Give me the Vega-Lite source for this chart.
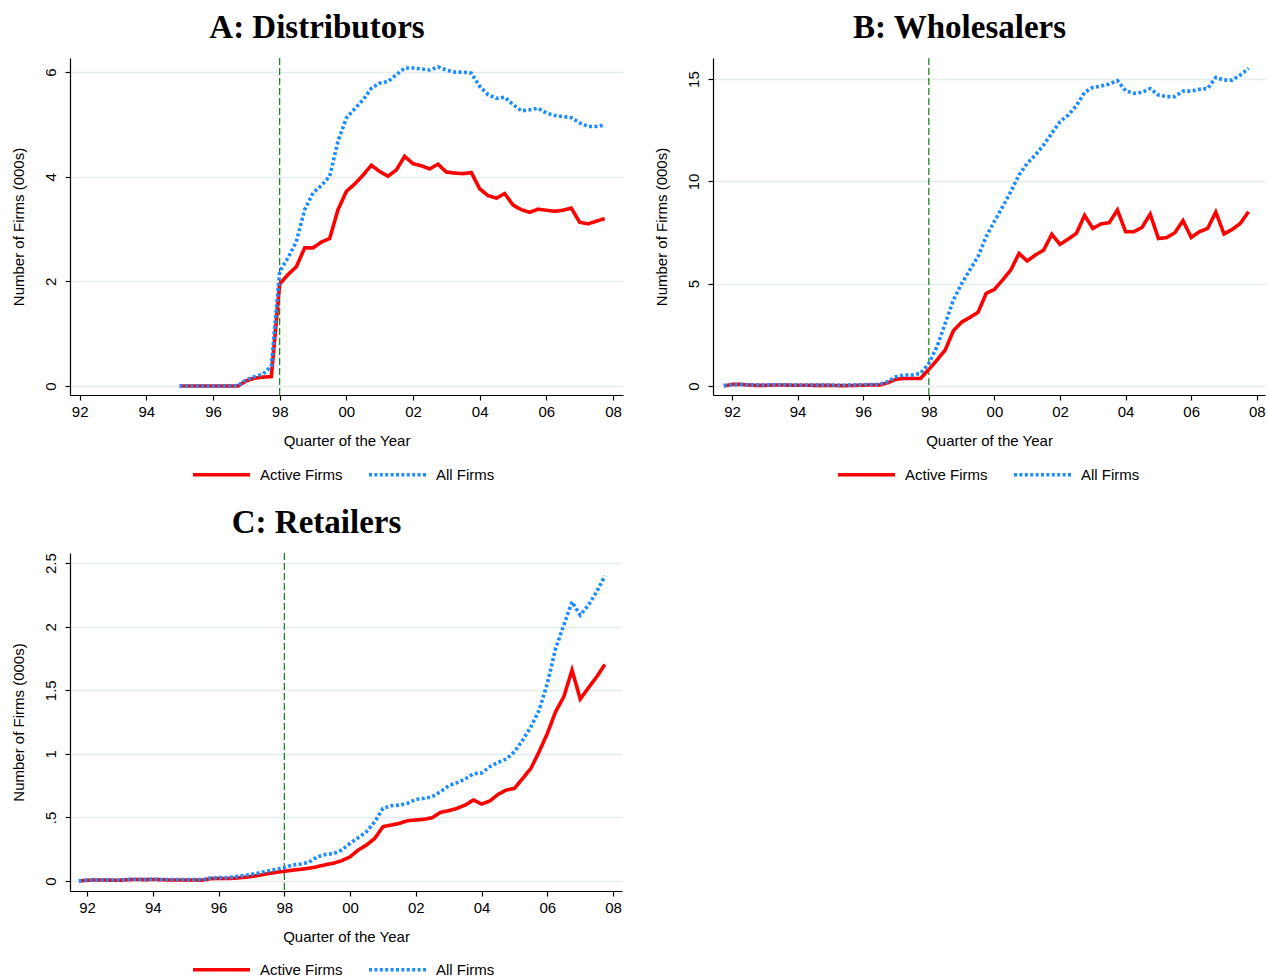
{
  "$schema": "https://vega.github.io/schema/vega-lite/v6.json",
  "background": "white",
  "padding": {"left": 11, "top": 12, "right": 0, "bottom": 0},
  "config": {
    "view": {"stroke": null},
    "font": "Liberation Sans",
    "axis": {"labelFont": "Liberation Sans", "titleFont": "Liberation Sans", "labelColor": "black", "titleColor": "black", "domainColor": "black", "tickColor": "black", "domainWidth": 1.2, "tickWidth": 1.2, "tickSize": 5, "labelFontSize": 15, "titleFontSize": 15, "titleFontWeight": "normal", "labelFlush": false, "labelOverlap": false},
    "axisX": {"grid": false, "labelPadding": 4, "titlePadding": 14},
    "axisY": {"grid": true, "gridColor": "#e4ecef", "gridWidth": 1.3, "labelAngle": -90, "labelAlign": "center", "labelBaseline": "bottom", "labelPadding": 7, "titlePadding": 17},
    "title": {"font": "Liberation Serif", "fontSize": 33, "fontWeight": "bold", "color": "black", "anchor": "middle", "frame": "bounds", "offset": 12},
    "legend": {"title": null, "orient": "none", "direction": "horizontal", "symbolType": "M-3,0H3", "symbolSize": 361, "symbolStrokeWidth": 3.6, "labelOffset": 27, "labelFont": "Liberation Sans", "labelFontSize": 15, "labelColor": "black", "columnPadding": 18, "padding": 0, "labelLimit": 300}
  },
  "datasets": {
    "A": [
      {"t": 1995.0, "Active Firms": 0, "All Firms": 0},
      {"t": 1995.25, "Active Firms": 0, "All Firms": 0},
      {"t": 1995.5, "Active Firms": 0, "All Firms": 0},
      {"t": 1995.75, "Active Firms": 0, "All Firms": 0},
      {"t": 1996.0, "Active Firms": 0, "All Firms": 0},
      {"t": 1996.25, "Active Firms": 0, "All Firms": 0},
      {"t": 1996.5, "Active Firms": 0, "All Firms": 0},
      {"t": 1996.75, "Active Firms": 0, "All Firms": 0.01},
      {"t": 1997.0, "Active Firms": 0.10, "All Firms": 0.12},
      {"t": 1997.25, "Active Firms": 0.15, "All Firms": 0.18},
      {"t": 1997.5, "Active Firms": 0.17, "All Firms": 0.23},
      {"t": 1997.75, "Active Firms": 0.18, "All Firms": 0.38},
      {"t": 1998.0, "Active Firms": 1.95, "All Firms": 2.19},
      {"t": 1998.25, "Active Firms": 2.13, "All Firms": 2.45},
      {"t": 1998.5, "Active Firms": 2.28, "All Firms": 2.76},
      {"t": 1998.75, "Active Firms": 2.64, "All Firms": 3.37},
      {"t": 1999.0, "Active Firms": 2.64, "All Firms": 3.69},
      {"t": 1999.25, "Active Firms": 2.75, "All Firms": 3.83},
      {"t": 1999.5, "Active Firms": 2.82, "All Firms": 4.01},
      {"t": 1999.75, "Active Firms": 3.37, "All Firms": 4.68},
      {"t": 2000.0, "Active Firms": 3.72, "All Firms": 5.12},
      {"t": 2000.25, "Active Firms": 3.86, "All Firms": 5.30},
      {"t": 2000.5, "Active Firms": 4.03, "All Firms": 5.47},
      {"t": 2000.75, "Active Firms": 4.22, "All Firms": 5.69},
      {"t": 2001.0, "Active Firms": 4.10, "All Firms": 5.79},
      {"t": 2001.25, "Active Firms": 4.01, "All Firms": 5.82},
      {"t": 2001.5, "Active Firms": 4.13, "All Firms": 5.95},
      {"t": 2001.75, "Active Firms": 4.39, "All Firms": 6.08},
      {"t": 2002.0, "Active Firms": 4.25, "All Firms": 6.08},
      {"t": 2002.25, "Active Firms": 4.21, "All Firms": 6.06},
      {"t": 2002.5, "Active Firms": 4.15, "All Firms": 6.04},
      {"t": 2002.75, "Active Firms": 4.24, "All Firms": 6.10},
      {"t": 2003.0, "Active Firms": 4.09, "All Firms": 6.04},
      {"t": 2003.25, "Active Firms": 4.07, "All Firms": 6.00},
      {"t": 2003.5, "Active Firms": 4.06, "All Firms": 6.00},
      {"t": 2003.75, "Active Firms": 4.08, "All Firms": 5.98},
      {"t": 2004.0, "Active Firms": 3.77, "All Firms": 5.73},
      {"t": 2004.25, "Active Firms": 3.64, "All Firms": 5.57},
      {"t": 2004.5, "Active Firms": 3.59, "All Firms": 5.50},
      {"t": 2004.75, "Active Firms": 3.68, "All Firms": 5.52},
      {"t": 2005.0, "Active Firms": 3.46, "All Firms": 5.38},
      {"t": 2005.25, "Active Firms": 3.37, "All Firms": 5.26},
      {"t": 2005.5, "Active Firms": 3.32, "All Firms": 5.28},
      {"t": 2005.75, "Active Firms": 3.38, "All Firms": 5.31},
      {"t": 2006.0, "Active Firms": 3.36, "All Firms": 5.22},
      {"t": 2006.25, "Active Firms": 3.34, "All Firms": 5.17},
      {"t": 2006.5, "Active Firms": 3.36, "All Firms": 5.15},
      {"t": 2006.75, "Active Firms": 3.40, "All Firms": 5.13},
      {"t": 2007.0, "Active Firms": 3.13, "All Firms": 5.03},
      {"t": 2007.25, "Active Firms": 3.10, "All Firms": 4.96},
      {"t": 2007.5, "Active Firms": 3.15, "All Firms": 4.96},
      {"t": 2007.75, "Active Firms": 3.20, "All Firms": 4.99}
    ],
    "B": [
      {"t": 1991.75, "Active Firms": 0.00, "All Firms": 0.02},
      {"t": 1992.0, "Active Firms": 0.08, "All Firms": 0.06},
      {"t": 1992.25, "Active Firms": 0.08, "All Firms": 0.07},
      {"t": 1992.5, "Active Firms": 0.05, "All Firms": 0.06},
      {"t": 1992.75, "Active Firms": 0.03, "All Firms": 0.05},
      {"t": 1993.0, "Active Firms": 0.03, "All Firms": 0.05},
      {"t": 1993.25, "Active Firms": 0.05, "All Firms": 0.06},
      {"t": 1993.5, "Active Firms": 0.05, "All Firms": 0.06},
      {"t": 1993.75, "Active Firms": 0.04, "All Firms": 0.05},
      {"t": 1994.0, "Active Firms": 0.04, "All Firms": 0.05},
      {"t": 1994.25, "Active Firms": 0.04, "All Firms": 0.05},
      {"t": 1994.5, "Active Firms": 0.03, "All Firms": 0.05},
      {"t": 1994.75, "Active Firms": 0.03, "All Firms": 0.05},
      {"t": 1995.0, "Active Firms": 0.03, "All Firms": 0.05},
      {"t": 1995.25, "Active Firms": 0.02, "All Firms": 0.04},
      {"t": 1995.5, "Active Firms": 0.02, "All Firms": 0.04},
      {"t": 1995.75, "Active Firms": 0.03, "All Firms": 0.05},
      {"t": 1996.0, "Active Firms": 0.04, "All Firms": 0.06},
      {"t": 1996.25, "Active Firms": 0.05, "All Firms": 0.07},
      {"t": 1996.5, "Active Firms": 0.05, "All Firms": 0.08},
      {"t": 1996.75, "Active Firms": 0.16, "All Firms": 0.22},
      {"t": 1997.0, "Active Firms": 0.33, "All Firms": 0.45},
      {"t": 1997.25, "Active Firms": 0.37, "All Firms": 0.54},
      {"t": 1997.5, "Active Firms": 0.37, "All Firms": 0.54},
      {"t": 1997.75, "Active Firms": 0.37, "All Firms": 0.62},
      {"t": 1998.0, "Active Firms": 0.81, "All Firms": 1.10},
      {"t": 1998.25, "Active Firms": 1.27, "All Firms": 1.92},
      {"t": 1998.5, "Active Firms": 1.76, "All Firms": 3.06},
      {"t": 1998.75, "Active Firms": 2.70, "All Firms": 4.20},
      {"t": 1999.0, "Active Firms": 3.12, "All Firms": 5.00},
      {"t": 1999.25, "Active Firms": 3.35, "All Firms": 5.67},
      {"t": 1999.5, "Active Firms": 3.60, "All Firms": 6.32},
      {"t": 1999.75, "Active Firms": 4.53, "All Firms": 7.30},
      {"t": 2000.0, "Active Firms": 4.72, "All Firms": 8.05},
      {"t": 2000.25, "Active Firms": 5.18, "All Firms": 8.76},
      {"t": 2000.5, "Active Firms": 5.67, "All Firms": 9.50},
      {"t": 2000.75, "Active Firms": 6.48, "All Firms": 10.31},
      {"t": 2001.0, "Active Firms": 6.11, "All Firms": 10.88},
      {"t": 2001.25, "Active Firms": 6.40, "All Firms": 11.29},
      {"t": 2001.5, "Active Firms": 6.64, "All Firms": 11.78},
      {"t": 2001.75, "Active Firms": 7.41, "All Firms": 12.35},
      {"t": 2002.0, "Active Firms": 6.92, "All Firms": 12.92},
      {"t": 2002.25, "Active Firms": 7.18, "All Firms": 13.24},
      {"t": 2002.5, "Active Firms": 7.46, "All Firms": 13.70},
      {"t": 2002.75, "Active Firms": 8.34, "All Firms": 14.35},
      {"t": 2003.0, "Active Firms": 7.70, "All Firms": 14.59},
      {"t": 2003.25, "Active Firms": 7.92, "All Firms": 14.66},
      {"t": 2003.5, "Active Firms": 7.98, "All Firms": 14.76},
      {"t": 2003.75, "Active Firms": 8.60, "All Firms": 14.92},
      {"t": 2004.0, "Active Firms": 7.54, "All Firms": 14.43},
      {"t": 2004.25, "Active Firms": 7.54, "All Firms": 14.30},
      {"t": 2004.5, "Active Firms": 7.75, "All Firms": 14.35},
      {"t": 2004.75, "Active Firms": 8.40, "All Firms": 14.54},
      {"t": 2005.0, "Active Firms": 7.21, "All Firms": 14.22},
      {"t": 2005.25, "Active Firms": 7.25, "All Firms": 14.14},
      {"t": 2005.5, "Active Firms": 7.49, "All Firms": 14.14},
      {"t": 2005.75, "Active Firms": 8.08, "All Firms": 14.41},
      {"t": 2006.0, "Active Firms": 7.26, "All Firms": 14.41},
      {"t": 2006.25, "Active Firms": 7.54, "All Firms": 14.50},
      {"t": 2006.5, "Active Firms": 7.70, "All Firms": 14.54},
      {"t": 2006.75, "Active Firms": 8.50, "All Firms": 15.08},
      {"t": 2007.0, "Active Firms": 7.43, "All Firms": 14.95},
      {"t": 2007.25, "Active Firms": 7.65, "All Firms": 14.95},
      {"t": 2007.5, "Active Firms": 7.95, "All Firms": 15.20},
      {"t": 2007.75, "Active Firms": 8.52, "All Firms": 15.52}
    ],
    "C": [
      {"t": 1991.75, "Active Firms": 0.000, "All Firms": 0.003},
      {"t": 1992.0, "Active Firms": 0.005, "All Firms": 0.006},
      {"t": 1992.25, "Active Firms": 0.008, "All Firms": 0.008},
      {"t": 1992.5, "Active Firms": 0.008, "All Firms": 0.009},
      {"t": 1992.75, "Active Firms": 0.006, "All Firms": 0.008},
      {"t": 1993.0, "Active Firms": 0.006, "All Firms": 0.008},
      {"t": 1993.25, "Active Firms": 0.010, "All Firms": 0.012},
      {"t": 1993.5, "Active Firms": 0.012, "All Firms": 0.014},
      {"t": 1993.75, "Active Firms": 0.010, "All Firms": 0.012},
      {"t": 1994.0, "Active Firms": 0.012, "All Firms": 0.014},
      {"t": 1994.25, "Active Firms": 0.010, "All Firms": 0.012},
      {"t": 1994.5, "Active Firms": 0.008, "All Firms": 0.011},
      {"t": 1994.75, "Active Firms": 0.008, "All Firms": 0.011},
      {"t": 1995.0, "Active Firms": 0.008, "All Firms": 0.011},
      {"t": 1995.25, "Active Firms": 0.008, "All Firms": 0.011},
      {"t": 1995.5, "Active Firms": 0.006, "All Firms": 0.010},
      {"t": 1995.75, "Active Firms": 0.018, "All Firms": 0.022},
      {"t": 1996.0, "Active Firms": 0.020, "All Firms": 0.026},
      {"t": 1996.25, "Active Firms": 0.019, "All Firms": 0.026},
      {"t": 1996.5, "Active Firms": 0.022, "All Firms": 0.032},
      {"t": 1996.75, "Active Firms": 0.028, "All Firms": 0.042},
      {"t": 1997.0, "Active Firms": 0.035, "All Firms": 0.052},
      {"t": 1997.25, "Active Firms": 0.045, "All Firms": 0.064},
      {"t": 1997.5, "Active Firms": 0.058, "All Firms": 0.078},
      {"t": 1997.75, "Active Firms": 0.068, "All Firms": 0.092},
      {"t": 1998.0, "Active Firms": 0.076, "All Firms": 0.105},
      {"t": 1998.25, "Active Firms": 0.085, "All Firms": 0.126},
      {"t": 1998.5, "Active Firms": 0.092, "All Firms": 0.134},
      {"t": 1998.75, "Active Firms": 0.100, "All Firms": 0.147},
      {"t": 1999.0, "Active Firms": 0.112, "All Firms": 0.190},
      {"t": 1999.25, "Active Firms": 0.128, "All Firms": 0.208},
      {"t": 1999.5, "Active Firms": 0.140, "All Firms": 0.215},
      {"t": 1999.75, "Active Firms": 0.160, "All Firms": 0.244},
      {"t": 2000.0, "Active Firms": 0.190, "All Firms": 0.296},
      {"t": 2000.25, "Active Firms": 0.244, "All Firms": 0.341},
      {"t": 2000.5, "Active Firms": 0.283, "All Firms": 0.388},
      {"t": 2000.75, "Active Firms": 0.335, "All Firms": 0.466},
      {"t": 2001.0, "Active Firms": 0.427, "All Firms": 0.571},
      {"t": 2001.25, "Active Firms": 0.440, "All Firms": 0.592},
      {"t": 2001.5, "Active Firms": 0.453, "All Firms": 0.597},
      {"t": 2001.75, "Active Firms": 0.474, "All Firms": 0.611},
      {"t": 2002.0, "Active Firms": 0.480, "All Firms": 0.642},
      {"t": 2002.25, "Active Firms": 0.485, "All Firms": 0.650},
      {"t": 2002.5, "Active Firms": 0.498, "All Firms": 0.663},
      {"t": 2002.75, "Active Firms": 0.540, "All Firms": 0.702},
      {"t": 2003.0, "Active Firms": 0.553, "All Firms": 0.749},
      {"t": 2003.25, "Active Firms": 0.571, "All Firms": 0.773},
      {"t": 2003.5, "Active Firms": 0.597, "All Firms": 0.802},
      {"t": 2003.75, "Active Firms": 0.637, "All Firms": 0.844},
      {"t": 2004.0, "Active Firms": 0.605, "All Firms": 0.849},
      {"t": 2004.25, "Active Firms": 0.629, "All Firms": 0.899},
      {"t": 2004.5, "Active Firms": 0.681, "All Firms": 0.933},
      {"t": 2004.75, "Active Firms": 0.715, "All Firms": 0.959},
      {"t": 2005.0, "Active Firms": 0.729, "All Firms": 1.017},
      {"t": 2005.25, "Active Firms": 0.807, "All Firms": 1.108},
      {"t": 2005.5, "Active Firms": 0.886, "All Firms": 1.213},
      {"t": 2005.75, "Active Firms": 1.017, "All Firms": 1.344},
      {"t": 2006.0, "Active Firms": 1.161, "All Firms": 1.554},
      {"t": 2006.25, "Active Firms": 1.331, "All Firms": 1.829},
      {"t": 2006.5, "Active Firms": 1.449, "All Firms": 2.013},
      {"t": 2006.75, "Active Firms": 1.659, "All Firms": 2.196},
      {"t": 2007.0, "Active Firms": 1.431, "All Firms": 2.091},
      {"t": 2007.25, "Active Firms": 1.520, "All Firms": 2.170},
      {"t": 2007.5, "Active Firms": 1.606, "All Firms": 2.275},
      {"t": 2007.75, "Active Firms": 1.703, "All Firms": 2.400}
    ],
    "vline": [{"t": 1998}]
  },
  "columns": 2,
  "spacing": {"row": 24, "column": 31},
  "resolve": {
    "scale": {"x": "independent", "y": "independent", "color": "independent", "strokeDash": "independent"},
    "legend": {"color": "independent", "strokeDash": "independent"}
  },
  "concat": [
    {
      "width": 553, "height": 337,
      "title": {"text": "A: Distributors"},
      "layer": [
        {"data": {"name": "vline"}, "mark": {"type": "rule", "color": "#0f800f", "strokeDash": [7, 3], "strokeWidth": 1.2},
         "encoding": {"x": {"field": "t", "type": "quantitative"}}},
        {"data": {"name": "A"},
         "transform": [{"fold": ["Active Firms", "All Firms"], "as": ["series", "v"]}],
         "mark": {"type": "line", "strokeWidth": 3.6},
         "encoding": {
           "x": {"field": "t", "type": "quantitative", "scale": {"domain": [1991.71, 2008.3], "nice": false, "zero": false},
                 "axis": {"values": [1992, 1994, 1996, 1998, 2000, 2002, 2004, 2006, 2008], "labelExpr": "substring(toString(datum.value), 2, 4)", "title": "Quarter of the Year"}},
           "y": {"field": "v", "type": "quantitative", "scale": {"domain": [-0.172, 6.27], "nice": false, "zero": false},
                 "axis": {"values": [0, 2, 4, 6], "title": "Number of Firms (000s)"}},
           "color": {"field": "series", "type": "nominal", "scale": {"domain": ["Active Firms", "All Firms"], "range": ["#ff0000", "#1c8cff"]},
                     "legend": {"legendX": 140, "legendY": 405}},
           "strokeDash": {"field": "series", "type": "nominal", "scale": {"domain": ["Active Firms", "All Firms"], "range": [[1, 0], [3, 2.4]]},
                     "legend": {"legendX": 140, "legendY": 405}}
         }}
      ]
    },
    {
      "width": 552, "height": 337,
      "title": {"text": "B: Wholesalers"},
      "layer": [
        {"data": {"name": "vline"}, "mark": {"type": "rule", "color": "#0f800f", "strokeDash": [7, 3], "strokeWidth": 1.2},
         "encoding": {"x": {"field": "t", "type": "quantitative"}}},
        {"data": {"name": "B"},
         "transform": [{"fold": ["Active Firms", "All Firms"], "as": ["series", "v"]}],
         "mark": {"type": "line", "strokeWidth": 3.6},
         "encoding": {
           "x": {"field": "t", "type": "quantitative", "scale": {"domain": [1991.42, 2008.25], "nice": false, "zero": false},
                 "axis": {"values": [1992, 1994, 1996, 1998, 2000, 2002, 2004, 2006, 2008], "labelExpr": "substring(toString(datum.value), 2, 4)", "title": "Quarter of the Year"}},
           "y": {"field": "v", "type": "quantitative", "scale": {"domain": [-0.44, 16.03], "nice": false, "zero": false},
                 "axis": {"values": [0, 5, 10, 15], "title": "Number of Firms (000s)"}},
           "color": {"field": "series", "type": "nominal", "scale": {"domain": ["Active Firms", "All Firms"], "range": ["#ff0000", "#1c8cff"]},
                     "legend": {"legendX": 142, "legendY": 405}},
           "strokeDash": {"field": "series", "type": "nominal", "scale": {"domain": ["Active Firms", "All Firms"], "range": [[1, 0], [3, 2.4]]},
                     "legend": {"legendX": 142, "legendY": 405}}
         }}
      ]
    },
    {
      "width": 552, "height": 338,
      "title": {"text": "C: Retailers"},
      "layer": [
        {"data": {"name": "vline"}, "mark": {"type": "rule", "color": "#0f800f", "strokeDash": [7, 3], "strokeWidth": 1.2},
         "encoding": {"x": {"field": "t", "type": "quantitative"}}},
        {"data": {"name": "C"},
         "transform": [{"fold": ["Active Firms", "All Firms"], "as": ["series", "v"]}],
         "mark": {"type": "line", "strokeWidth": 3.6},
         "encoding": {
           "x": {"field": "t", "type": "quantitative", "scale": {"domain": [1991.48, 2008.27], "nice": false, "zero": false},
                 "axis": {"values": [1992, 1994, 1996, 1998, 2000, 2002, 2004, 2006, 2008], "labelExpr": "substring(toString(datum.value), 2, 4)", "title": "Quarter of the Year"}},
           "y": {"field": "v", "type": "quantitative", "scale": {"domain": [-0.079, 2.58], "nice": false, "zero": false},
                 "axis": {"values": [0, 0.5, 1, 1.5, 2, 2.5], "labelExpr": "datum.value == 0.5 ? '.5' : toString(datum.value)", "title": "Number of Firms (000s)"}},
           "color": {"field": "series", "type": "nominal", "scale": {"domain": ["Active Firms", "All Firms"], "range": ["#ff0000", "#1c8cff"]},
                     "legend": {"legendX": 140, "legendY": 405}},
           "strokeDash": {"field": "series", "type": "nominal", "scale": {"domain": ["Active Firms", "All Firms"], "range": [[1, 0], [3, 2.4]]},
                     "legend": {"legendX": 140, "legendY": 405}}
         }}
      ]
    }
  ]
}
